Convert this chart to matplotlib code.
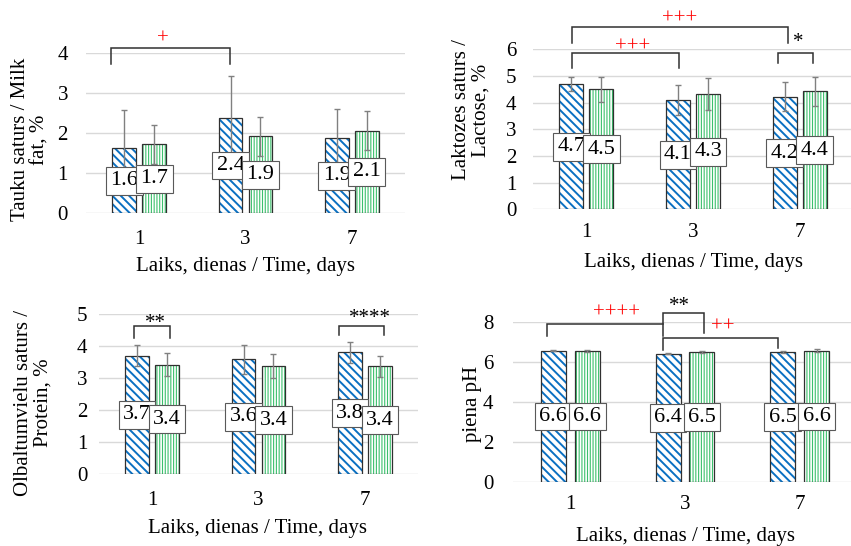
import numpy as np
import matplotlib
matplotlib.use("Agg")
import matplotlib.pyplot as plt

plt.rcParams['font.family'] = ['Liberation Serif', 'DejaVu Serif']
plt.rcParams['hatch.linewidth'] = 1.3

# ---------------- data ----------------
days = ['1', '3', '7']

fat_a = [1.62, 2.38, 1.87]
fat_a_err = [0.97, 1.06, 0.74]
fat_b = [1.72, 1.92, 2.06]
fat_b_err = [0.49, 0.49, 0.49]

lac_a = [4.70, 4.10, 4.22]
lac_a_err = [0.26, 0.57, 0.54]
lac_b = [4.50, 4.32, 4.42]
lac_b_err = [0.46, 0.61, 0.55]

pro_a = [3.70, 3.58, 3.80]
pro_a_err = [0.34, 0.45, 0.33]
pro_b = [3.42, 3.37, 3.36]
pro_b_err = [0.35, 0.37, 0.33]

ph_a = [6.58, 6.43, 6.52]
ph_a_err = [0.04, 0.04, 0.05]
ph_b = [6.58, 6.52, 6.58]
ph_b_err = [0.05, 0.06, 0.08]

xlabel = 'Laiks, dienas / Time, days'

# ---------------- style ----------------
W, H = 851, 546
BLUE = '#0a70c2'
GREEN = '#3cc06c'
EDGE = '#303030'
GRID = '#d9d9d9'
ERR = '#808080'
FS = 15
LFS = 16

fig = plt.figure(figsize=(W / 100, H / 100), dpi=100)


def add_ax(left, right, bottom, top):
    return fig.add_axes([left / W, 1 - bottom / H, (right - left) / W, (bottom - top) / H])


def ftext(xp, yp, s, **kw):
    fig.text(xp / W, 1 - yp / H, s, fontsize=FS, ha='center', va='center', **kw)


def hatched_bars(ax, xs, vals, width, col, hatch, hlw):
    with plt.rc_context({'hatch.linewidth': hlw}):
        bars = ax.bar(xs, vals, width, color='white', edgecolor=col, hatch=hatch,
                      linewidth=0, zorder=2)
    for p in bars:
        if hasattr(p, 'set_hatch_linewidth'):
            p.set_hatch_linewidth(hlw)
    ax.bar(xs, vals, width, fill=False, edgecolor=EDGE, linewidth=0.9, zorder=2.1)


def panel(ax, a, a_err, b, b_err, ymax, step, width, off, xpad, ypad):
    x = np.arange(len(days))
    hatched_bars(ax, x - off, a, width, BLUE, '\\' * 4, 1.4)
    hatched_bars(ax, x + off, b, width, GREEN, '|' * 6, 0.8)
    for xs, vals, errs in ((x - off, a, a_err), (x + off, b, b_err)):
        ax.errorbar(xs, vals, yerr=errs, fmt='none', ecolor=ERR, elinewidth=1,
                    capsize=2, capthick=1, zorder=3)
    for xs, vals in ((x - off, a), (x + off, b)):
        for xi, v in zip(xs, vals):
            ax.text(xi, v / 2, f'{v:.1f}', ha='center', va='center', fontsize=LFS,
                    zorder=5,
                    bbox=dict(boxstyle='square,pad=0.2', fc='white', ec='#595959', lw=0.8))
    ax.set_xlim(-0.5, len(days) - 0.5)
    ax.set_ylim(0, ymax)
    ax.set_yticks(np.arange(0, ymax + 0.01, step))
    ax.set_xticks(x)
    ax.set_xticklabels(days)
    ax.tick_params(axis='both', length=0, labelsize=FS)
    ax.tick_params(axis='x', pad=xpad)
    ax.tick_params(axis='y', pad=ypad)
    for s in ax.spines.values():
        s.set_visible(False)
    ax.yaxis.grid(True, color=GRID, lw=1)
    ax.set_axisbelow(True)
    ax.patch.set_alpha(0)


def bracket(ax, xs, ys):
    ax.plot(xs, ys, color=EDGE, lw=1.1, clip_on=False, zorder=6,
            solid_joinstyle='miter')


def mark(ax, x, y, s, color):
    ax.text(x, y, s, ha='center', va='center', fontsize=FS, color=color,
            clip_on=False, zorder=6)


# ---------------- panel 1: milk fat ----------------
ax1 = add_ax(86, 405, 213, 53.3)
panel(ax1, fat_a, fat_a_err, fat_b, fat_b_err, 4, 1, 0.225, 0.141, 12.5, 13)
bracket(ax1, [-0.265, -0.265, 0.854, 0.854], [3.74, 4.14, 4.14, 3.74])
mark(ax1, 0.22, 4.36, '+', 'red')
ftext(30, 139.5, 'Tauku saturs / Milk\nfat, %', rotation=90, linespacing=1.05,
      multialignment='center')
ftext(245, 267, xlabel)

# ---------------- panel 2: lactose ----------------
ax2 = add_ax(533, 853, 209.3, 49.3)
panel(ax2, lac_a, lac_a_err, lac_b, lac_b_err, 6, 1, 0.225, 0.141, 10, 12)
bracket(ax2, [-0.137, -0.137, 1.893, 1.893], [6.25, 6.85, 6.85, 6.25])
mark(ax2, 0.872, 7.12, '+++', 'red')
bracket(ax2, [-0.137, -0.137, 0.872, 0.872], [5.29, 5.87, 5.87, 5.29])
mark(ax2, 0.435, 6.08, '+++', 'red')
bracket(ax2, [1.794, 1.794, 2.128, 2.128], [5.47, 5.87, 5.87, 5.47])
mark(ax2, 1.984, 6.26, '*', 'black')
ftext(471, 110, 'Laktozes saturs /\nLactose, %', rotation=90, linespacing=1.05,
      multialignment='center')
ftext(693, 262, xlabel)

# ---------------- panel 3: protein ----------------
ax3 = add_ax(99, 418, 474, 314)
panel(ax3, pro_a, pro_a_err, pro_b, pro_b_err, 5, 1, 0.225, 0.141, 12, 8.5)
bracket(ax3, [-0.168, -0.168, 0.168, 0.168], [4.26, 4.62, 4.62, 4.26])
mark(ax3, 0.027, 4.71, '**', 'black')
bracket(ax3, [1.76, 1.76, 2.18, 2.18], [4.34, 4.62, 4.62, 4.34])
mark(ax3, 2.049, 4.87, '****', 'black')
ftext(33, 403, 'Olbaltumvielu saturs /\nProtein, %', rotation=90, linespacing=1.05,
      multialignment='center')
ftext(258, 528, xlabel)

# ---------------- panel 4: pH ----------------
ax4 = add_ax(513, 857, 482.3, 322.3)
panel(ax4, ph_a, ph_a_err, ph_b, ph_b_err, 8, 2, 0.218, 0.148, 9.5, 14)
bracket(ax4, [-0.206, -0.206, 0.806], [7.33, 7.92, 7.92])
bracket(ax4, [0.806, 0.806, 1.17, 1.17], [7.33, 8.45, 8.45, 7.45])
bracket(ax4, [0.806, 0.806, 1.808, 1.808], [6.6, 7.23, 7.23, 6.7])
mark(ax4, 0.404, 8.45, '++++', 'red')
mark(ax4, 0.95, 8.8, '**', 'black')
mark(ax4, 1.33, 7.74, '++', 'red')
ftext(472, 404, 'piena pH', rotation=90)
ftext(685, 537, xlabel)

fig.savefig('out.png', dpi=100)
